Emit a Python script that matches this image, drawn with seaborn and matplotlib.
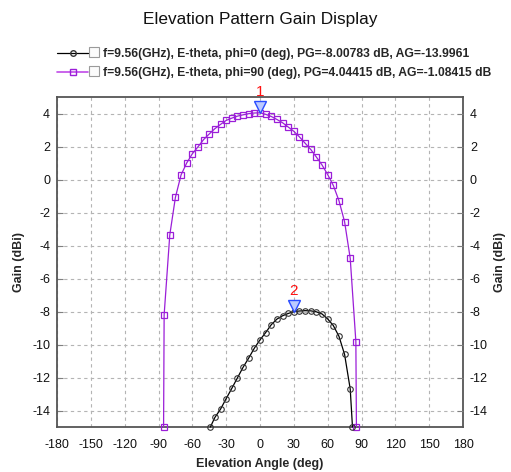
import matplotlib
matplotlib.use("Agg")
import matplotlib.pyplot as plt
import matplotlib.transforms as mtransforms
from matplotlib.lines import Line2D
from matplotlib.patches import Rectangle
import pandas as pd
import seaborn as sns

# ---- text -----------------------------------------------------------------
title = "Elevation Pattern Gain Display"
x_label = "Elevation Angle (deg)"
y_label = "Gain (dBi)"
phi0_label = "f=9.56(GHz), E-theta, phi=0 (deg), PG=-8.00783 dB, AG=-13.9961"
phi90_label = "f=9.56(GHz), E-theta, phi=90 (deg), PG=4.04415 dB, AG=-1.08415 dB"

# ---- E-theta, phi = 0 deg -------------------------------------------------
phi0_angle = [-44, -40, -35, -30, -25, -20, -15, -10, -5, 0, 5, 10, 15, 20,
              25, 30, 35, 40, 45, 50, 55, 60, 65, 70, 75, 80, 82]
phi0_gain = [-15.0, -14.42, -13.92, -13.28, -12.66, -12.02, -11.38, -10.82,
             -10.22, -9.72, -9.28, -8.8, -8.46, -8.26, -8.12, -8.00783,
             -7.97, -7.95, -7.96, -8.02, -8.15, -8.45, -8.85, -9.5, -10.6,
             -12.7, -15.0]

# ---- E-theta, phi = 90 deg ------------------------------------------------
phi90_angle = [-85.5, -85, -80, -75, -70, -65, -60, -55, -50, -45, -40, -35,
               -30, -25, -20, -15, -10, -5, 0, 5, 10, 15, 20, 25, 30, 35, 40,
               45, 50, 55, 60, 65, 70, 75, 80, 85, 85.5]
phi90_gain = [-15.0, -8.2, -3.36, -1.08, 0.28, 1.0, 1.56, 1.98, 2.42, 2.76,
              3.08, 3.34, 3.58, 3.72, 3.84, 3.92, 3.99, 4.03, 4.04415, 3.95,
              3.82, 3.64, 3.44, 3.18, 2.92, 2.58, 2.2, 1.82, 1.36, 0.88, 0.3,
              -0.36, -1.28, -2.56, -4.78, -9.82, -15.0]

# ---- peak markers ---------------------------------------------------------
peak_ids = ["1", "2"]
peak_angle = [0, 30]
peak_gain = [4.04415, -8.00783]

x_ticks = list(range(-180, 181, 30))
y_ticks = list(range(-14, 5, 2))

PURPLE = "#9b1ed8"

sns.set_style("white")
plt.rcParams["font.family"] = ["Liberation Sans", "DejaVu Sans"]
plt.rcParams["axes.unicode_minus"] = False

W, H = 511, 472
fig = plt.figure(figsize=(W / 100, H / 100), dpi=100)
ax = fig.add_axes([57 / W, 45 / H, 406 / W, 330 / H])

df0 = pd.DataFrame({"angle": phi0_angle, "gain": phi0_gain})
df90 = pd.DataFrame({"angle": phi90_angle, "gain": phi90_gain})

sns.lineplot(data=df90, x="angle", y="gain", ax=ax, sort=False,
             color=PURPLE, lw=0.9, marker="s", markersize=4,
             markerfacecolor="none", markeredgecolor=PURPLE,
             markeredgewidth=0.9, clip_on=False, zorder=3)
sns.lineplot(data=df0, x="angle", y="gain", ax=ax, sort=False,
             color="black", lw=0.9, marker="o", markersize=4,
             markerfacecolor="none", markeredgecolor="#333333",
             markeredgewidth=0.8, clip_on=False, zorder=3)

ax.set_xlim(-180, 180)
ax.set_ylim(-15, 5)
ax.set_xticks(x_ticks)
ax.set_yticks(y_ticks)
ax.grid(True, ls=(0, (3, 3)), color="#b4b4b4", lw=0.8)
ax.tick_params(direction="in", length=4, color="#808080", labelsize=9,
               labelcolor="#111111")
ax.tick_params(axis="x", pad=9)
ax.tick_params(axis="y", pad=5)
for s in ax.spines.values():
    s.set_color("#555555")
    s.set_linewidth(1.3)

ax.set_xlabel(x_label, fontsize=9, fontweight="bold")
ax.set_ylabel(y_label, fontsize=9, fontweight="bold")
ax.xaxis.set_label_coords(0.5, -0.095)
ax.yaxis.set_label_coords(-0.079, 0.5)

ax2 = ax.twinx()
ax2.set_ylim(ax.get_ylim())
ax2.set_yticks(y_ticks)
ax2.tick_params(direction="in", length=4, color="#808080", labelsize=9,
                labelcolor="#111111", pad=5)
ax2.set_ylabel(y_label, fontsize=9, fontweight="bold", rotation=90)
ax2.yaxis.set_label_coords(1.076, 0.5)
for s in ax2.spines.values():
    s.set_visible(False)

# peak markers: hollow down-triangle with tip on the peak, red id above
tri = mtransforms.offset_copy(ax.transData, fig=fig, x=0, y=6, units="dots")
ax.plot(peak_angle, peak_gain, ls="none", marker="v", markersize=8,
        markerfacecolor="#bccbff", markeredgecolor="#2a4cff",
        markeredgewidth=1.0, transform=tri, clip_on=False, zorder=5)
for pid, a, g in zip(peak_ids, peak_angle, peak_gain):
    ax.annotate(pid, (a, g), xytext=(0, 17), textcoords="offset pixels",
                ha="center", va="baseline", color="#ff1010", fontsize=11,
                annotation_clip=False, zorder=6)

fig.text(260 / W, 1 - 12 / H, title, ha="center", va="top", fontsize=12.4,
         color="#111111")

handles = [
    Line2D([], [], color="black", lw=0.9, marker="o", markersize=4,
           markerfacecolor="none", markeredgecolor="#333333"),
    Line2D([], [], color="#c04ae8", lw=1.2, marker="s", markersize=4,
           markerfacecolor="none", markeredgecolor=PURPLE),
]
leg = fig.legend(handles, [phi0_label, phi90_label], loc="upper left",
                 bbox_to_anchor=(57 / W, 1 - 48 / H), frameon=False,
                 borderpad=0, borderaxespad=0, handlelength=2.57,
                 handletextpad=1.24, labelspacing=0.58, numpoints=1,
                 prop={"size": 8.7, "weight": "bold"})

# check boxes next to each legend entry
for yc in (52, 71):
    fig.patches.append(Rectangle((89 / W, 1 - (yc + 5) / H), 10 / W, 10 / H,
                                 transform=fig.transFigure,
                                 facecolor="#fbfbfb", edgecolor="#9a9a9a",
                                 lw=0.8))

fig.savefig("out.png", dpi=100, facecolor="white")
